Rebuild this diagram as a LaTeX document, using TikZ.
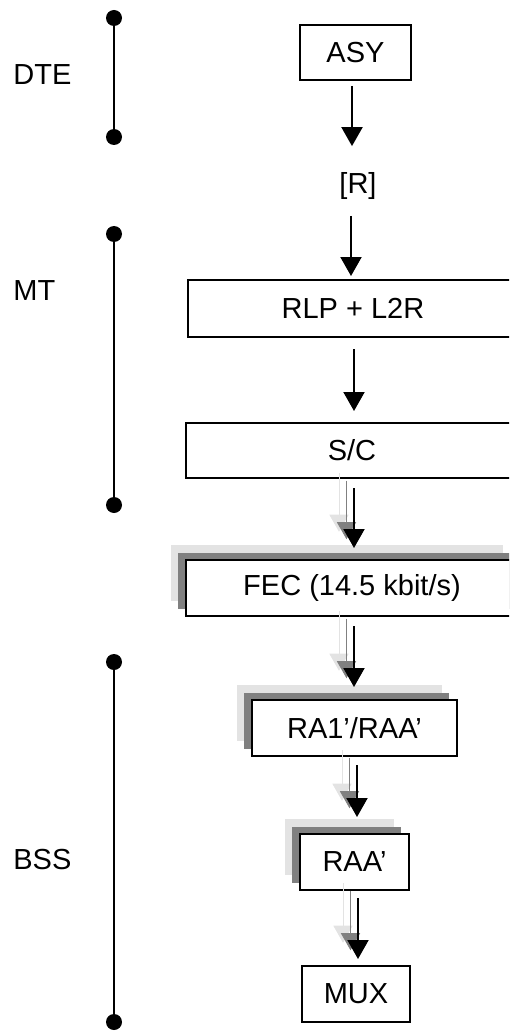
\documentclass[tikz,border=0pt]{standalone}
\usepackage{fontspec}
\setmainfont{Liberation Sans}
\usetikzlibrary{arrows.meta}
\definecolor{shlight}{gray}{0.89}
\definecolor{shdark}{gray}{0.5}

\begin{document}
\begin{tikzpicture}[x=0.5pt,y=-0.5pt,
    every node/.style={font=\fontsize{14.5}{16}\selectfont, inner sep=0pt},
    blk/.style={draw, line width=1pt, fill=white},
    shadowed/.style={preaction={fill=shlight, draw=none, transform canvas={shift={(-7.75pt,7.5pt)}}},
                     preaction={fill=shdark, draw=none, transform canvas={shift={(-3.9pt,3.75pt)}}}},
    flow/.style={line width=1pt, -{Triangle[length=9.5pt,width=10.5pt]}},
    shflow/.style={flow,
                   preaction={draw=shlight, transform canvas={shift={(-7.5pt,7.5pt)}}},
                   preaction={draw=shdark, transform canvas={shift={(-3.75pt,3.75pt)}}}},
    span/.style={line width=1pt}]
  \clip (0,0) rectangle (509,1032);

  % layers on the left
  \node[anchor=west] (dte) at (13,75) {DTE};
  \node[anchor=west] (mt) at (13,291) {MT};
  \node[anchor=west] (bss) at (13,860) {BSS};
  \coordinate (dteA) at (114,18);
  \coordinate (dteB) at (114,137);
  \coordinate (mtA) at (114,234);
  \coordinate (mtB) at (114,505);
  \coordinate (bssA) at (114,662);
  \coordinate (bssB) at (114,1022);
  \draw[span] (dteA) -- (dteB);
  \draw[span] (mtA) -- (mtB);
  \draw[span] (bssA) -- (bssB);
  \foreach \p in {dteA,dteB,mtA,mtB,bssA,bssB}
    \fill (\p) circle (4pt);

  % functions
  \node[blk, minimum width=55.5pt, minimum height=27.5pt] (asy) at (355.5,52.5) {ASY};
  \node[text height=10.5pt, text depth=3pt] (r) at (358,186) {[R]};
  \node[blk, minimum width=165pt, minimum height=28.5pt] (rlp) at (353,308.5) {RLP + L2R};
  \node[blk, minimum width=166pt, minimum height=27.5pt] (sc) at (352,450.5) {S/C};
  \node[blk, shadowed, minimum width=166pt, minimum height=28pt] (fec) at (352,588) {FEC (14.5 kbit/s)};
  \node[blk, shadowed, minimum width=102.5pt, minimum height=28pt] (ra) at (354.5,728) {RA1’/RAA’};
  \node[blk, shadowed, minimum width=54.5pt, minimum height=28pt] (raa) at (354.5,862) {RAA’};
  \node[blk, minimum width=54pt, minimum height=28pt] (mux) at (356,994) {MUX};

  % data flow
  \draw[flow, shorten <=2.5pt, shorten >=13pt] ([xshift=-1.75pt]asy.south) -- ([xshift=-1.75pt]asy.south |- r.north);
  \draw[flow, shorten <=8pt, shorten >=1.5pt] ([xshift=-3.5pt]r.south) -- ([xshift=-3.5pt]r.south |- rlp.north);
  \draw[flow, shorten <=5.5pt, shorten >=5.5pt] ([xshift=0.5pt]rlp.south) -- ([xshift=0.5pt]rlp.south |- sc.north);
  \draw[shflow, shorten <=4.5pt, shorten >=5.5pt] ([xshift=1pt]sc.south) -- ([xshift=1pt]sc.south |- fec.north);
  \draw[shflow, shorten <=4.5pt, shorten >=6pt] ([xshift=1pt]fec.south) -- ([xshift=1pt]fec.south |- ra.north);
  \draw[shflow, shorten <=4pt, shorten >=8pt] ([xshift=1.25pt]ra.south) -- ([xshift=1.25pt]ra.south |- raa.north);
  \draw[shflow, shorten <=3.5pt, shorten >=3pt] ([xshift=1.75pt]raa.south) -- ([xshift=1.75pt]raa.south |- mux.north);
\end{tikzpicture}
\end{document}
